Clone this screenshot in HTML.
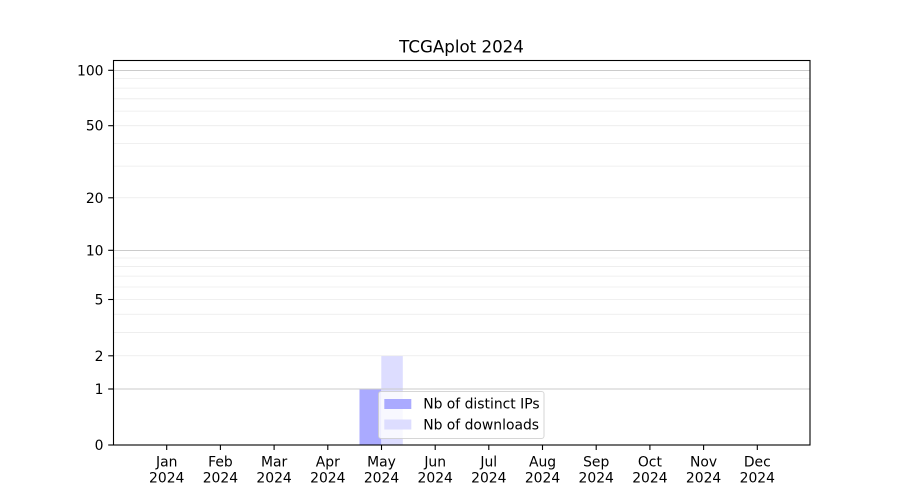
<!DOCTYPE html>
<html>
<head>
<meta charset="utf-8">
<style>
  html, body { margin:0; padding:0; background:#ffffff; }
  svg { display:block; }
  text { font-family: "DejaVu Sans", "Liberation Sans", sans-serif; fill:#000; }
</style>
</head>
<body>
<svg width="900" height="500" viewBox="0 0 900 500" xmlns="http://www.w3.org/2000/svg">
  <rect x="0" y="0" width="900" height="500" fill="#ffffff"/>

  <!-- bars -->
  <rect x="359.5" y="388.7" width="21.8" height="56.3" fill="#aaaaff"/>
  <rect x="381.3" y="355.8" width="21.5" height="89.2" fill="#ddddff"/>

  <!-- minor gridlines -->
  <g stroke="#ebebeb" stroke-width="0.8" fill="none">
    <line x1="113" y1="355.78" x2="810" y2="355.78"/>
    <line x1="113" y1="332.42" x2="810" y2="332.42"/>
    <line x1="113" y1="314.28" x2="810" y2="314.28"/>
    <line x1="113" y1="299.49" x2="810" y2="299.49"/>
    <line x1="113" y1="286.97" x2="810" y2="286.97"/>
    <line x1="113" y1="276.13" x2="810" y2="276.13"/>
    <line x1="113" y1="266.56" x2="810" y2="266.56"/>
    <line x1="113" y1="258.0" x2="810" y2="258.0"/>
    <line x1="113" y1="197.75" x2="810" y2="197.75"/>
    <line x1="113" y1="166.12" x2="810" y2="166.12"/>
    <line x1="113" y1="143.41" x2="810" y2="143.41"/>
    <line x1="113" y1="125.68" x2="810" y2="125.68"/>
    <line x1="113" y1="111.14" x2="810" y2="111.14"/>
    <line x1="113" y1="98.81" x2="810" y2="98.81"/>
    <line x1="113" y1="88.11" x2="810" y2="88.11"/>
    <line x1="113" y1="78.66" x2="810" y2="78.66"/>
  </g>
  <!-- major gridlines -->
  <g stroke="#cbcbcb" stroke-width="1" fill="none">
    <line x1="113" y1="389" x2="810" y2="389"/>
    <line x1="113" y1="250.5" x2="810" y2="250.5"/>
    <line x1="113" y1="70.5" x2="810" y2="70.5"/>
  </g>

  <!-- spines -->
  <rect x="113.5" y="60.5" width="696.5" height="384.5" fill="none" stroke="#000" stroke-width="1.1"/>

  <!-- y ticks -->
  <g stroke="#000" stroke-width="1.1">
    <line x1="108.2" y1="445" x2="113" y2="445"/>
    <line x1="108.2" y1="389" x2="113" y2="389"/>
    <line x1="108.2" y1="355.8" x2="113" y2="355.8"/>
    <line x1="108.2" y1="299.5" x2="113" y2="299.5"/>
    <line x1="108.2" y1="250.3" x2="113" y2="250.3"/>
    <line x1="108.2" y1="197.8" x2="113" y2="197.8"/>
    <line x1="108.2" y1="125.7" x2="113" y2="125.7"/>
    <line x1="108.2" y1="70.3" x2="113" y2="70.3"/>
  </g>
  <g font-size="13.9" text-anchor="end">
    <text x="103.5" y="450">0</text>
    <text x="103.5" y="394">1</text>
    <text x="103.5" y="360.8">2</text>
    <text x="103.5" y="304.5">5</text>
    <text x="103.5" y="255.3">10</text>
    <text x="103.5" y="202.8">20</text>
    <text x="103.5" y="130.7">50</text>
    <text x="103.5" y="75.3">100</text>
  </g>

  <!-- x ticks -->
  <g stroke="#000" stroke-width="1.1">
    <line x1="166.7" y1="445" x2="166.7" y2="450"/>
    <line x1="220.4" y1="445" x2="220.4" y2="450"/>
    <line x1="274.1" y1="445" x2="274.1" y2="450"/>
    <line x1="327.8" y1="445" x2="327.8" y2="450"/>
    <line x1="381.5" y1="445" x2="381.5" y2="450"/>
    <line x1="435.2" y1="445" x2="435.2" y2="450"/>
    <line x1="488.8" y1="445" x2="488.8" y2="450"/>
    <line x1="542.5" y1="445" x2="542.5" y2="450"/>
    <line x1="596.2" y1="445" x2="596.2" y2="450"/>
    <line x1="649.9" y1="445" x2="649.9" y2="450"/>
    <line x1="703.6" y1="445" x2="703.6" y2="450"/>
    <line x1="757.3" y1="445" x2="757.3" y2="450"/>
  </g>
  <g font-size="13.9" text-anchor="middle">
    <text x="166.7" y="466.3">Jan</text><text x="166.7" y="482.3">2024</text>
    <text x="220.4" y="466.3">Feb</text><text x="220.4" y="482.3">2024</text>
    <text x="274.1" y="466.3">Mar</text><text x="274.1" y="482.3">2024</text>
    <text x="327.8" y="466.3">Apr</text><text x="327.8" y="482.3">2024</text>
    <text x="381.5" y="466.3">May</text><text x="381.5" y="482.3">2024</text>
    <text x="435.2" y="466.3">Jun</text><text x="435.2" y="482.3">2024</text>
    <text x="488.8" y="466.3">Jul</text><text x="488.8" y="482.3">2024</text>
    <text x="542.5" y="466.3">Aug</text><text x="542.5" y="482.3">2024</text>
    <text x="596.2" y="466.3">Sep</text><text x="596.2" y="482.3">2024</text>
    <text x="649.9" y="466.3">Oct</text><text x="649.9" y="482.3">2024</text>
    <text x="703.6" y="466.3">Nov</text><text x="703.6" y="482.3">2024</text>
    <text x="757.3" y="466.3">Dec</text><text x="757.3" y="482.3">2024</text>
  </g>

  <!-- title -->
  <text x="461.5" y="52.7" font-size="16.67" text-anchor="middle">TCGAplot 2024</text>

  <!-- legend -->
  <rect x="378.5" y="391.5" width="165.5" height="47" rx="2.5" ry="2.5" fill="#ffffff" fill-opacity="0.8" stroke="#cccccc" stroke-opacity="0.8" stroke-width="1"/>
  <rect x="384.3" y="399" width="27" height="10" fill="#aaaaff"/>
  <rect x="384.3" y="419.5" width="27" height="10" fill="#ddddff"/>
  <text x="423.2" y="408.6" font-size="13.9">Nb of distinct IPs</text>
  <text x="423.2" y="429.4" font-size="13.9">Nb of downloads</text>
</svg>
</body>
</html>
